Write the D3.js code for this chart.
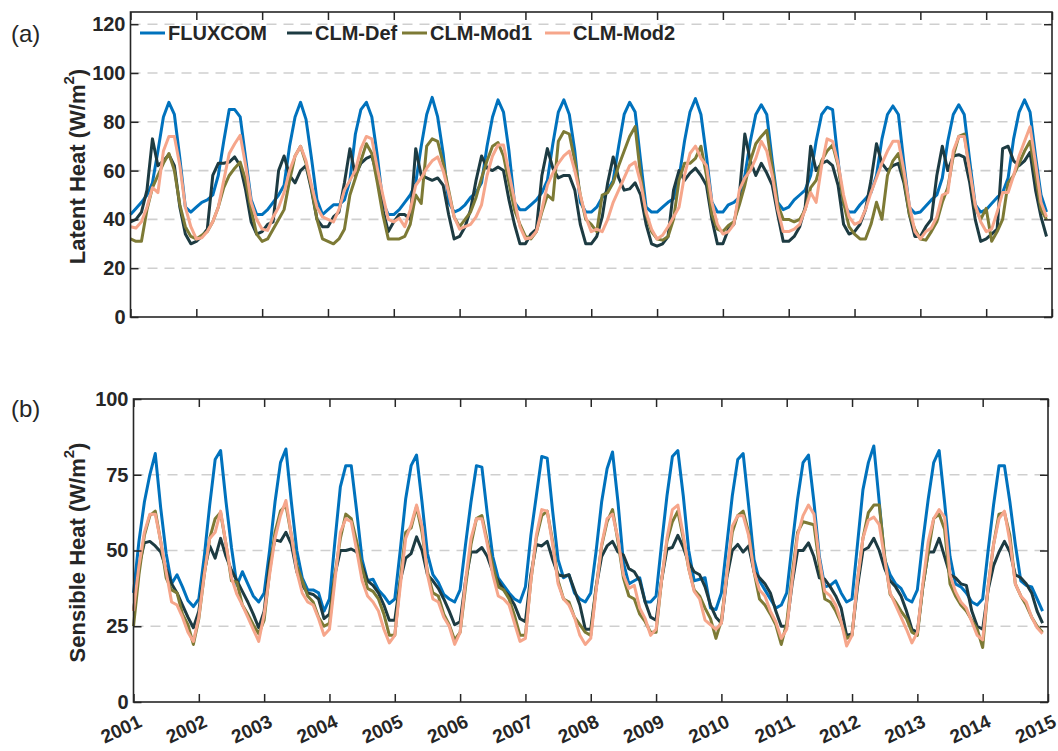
<!DOCTYPE html>
<html>
<head>
<meta charset="utf-8">
<title>Latent and sensible heat, FLUXCOM vs CLM, 2001-2014</title>
<script src="https://d3js.org/d3.v7.min.js"></script>
<style>
  body { margin: 0; background: #fff; }
  svg text { font-family: "Liberation Sans", Arial, Helvetica, sans-serif; fill: #262626; }
</style>
</head>
<body>
<script>
// monthly means Jan 2001 - Dec 2014, one row per year (W/m2)
var leFlux = [
  42, 44.5, 47, 50, 55, 68, 82, 88, 83, 65, 45, 43,
  45, 47, 48, 50, 58, 72, 85, 85, 82, 65, 48, 42,
  42, 44, 47, 50, 54, 70, 82, 88, 81, 65, 48, 42,
  44, 46, 46, 48, 56, 75, 85, 88, 82, 66, 47, 42,
  42, 44, 47, 50, 55, 70, 83, 90, 82, 67, 47, 43,
  44, 46, 49, 51, 55, 70, 82, 89, 84, 68, 47, 44,
  44, 46, 48, 51, 56, 71, 84, 89, 83, 68, 47, 43,
  43, 45, 49, 52, 56, 70, 83, 88, 84, 64, 45, 43,
  43, 45, 47, 48.5, 57, 72, 84, 89.5, 83, 66, 47, 43,
  43, 46, 47, 49, 58, 72, 83, 87, 83, 64, 47, 44,
  45, 48, 50, 52, 58, 72, 83, 86, 85, 64, 46, 43,
  43, 46, 48.5, 51, 58, 73, 83, 86.5, 83, 63, 45, 42.5,
  43, 45.5, 48, 50, 57, 72, 83, 87, 83, 64, 46, 43,
  44, 46.5, 49, 51, 57, 73, 84, 89, 84, 66, 50, 43
];
var leDef = [
  39, 40, 43, 52, 73, 62, 64, 66.5, 62, 45, 34, 30,
  31, 33, 36, 58, 63, 63, 63.5, 65.6, 62, 52, 39, 34,
  35, 38, 39, 60, 66, 58, 55, 60, 62, 52, 40, 37,
  37, 41, 43, 55, 69, 58, 63, 65, 66, 58, 44, 35,
  39, 42, 42, 40, 69, 58, 57, 56, 57, 54, 42, 32,
  33, 37, 44, 56, 66, 61, 60, 61.5, 60, 48, 38, 30,
  30, 34, 36, 58, 69, 61, 57, 58, 58, 52, 38, 30,
  30, 33, 41, 55, 65.6, 57, 52, 52.5, 55, 50, 38, 30,
  29, 30, 33, 52, 60, 56, 59, 61, 58, 54, 40, 30,
  30, 36, 38, 50, 75, 64, 58, 63, 59, 54, 42, 31,
  31, 33, 37, 45, 70, 60, 63, 64, 62, 54, 38, 34,
  35, 38, 44, 56, 71, 63, 60, 62, 63, 55, 42, 33,
  33, 37, 40, 58, 70, 60, 66, 66.5, 65.5, 55, 40, 31,
  32, 34, 36, 69, 70, 64, 62, 64, 67.5, 52, 41, 33
];
var leMod1 = [
  32, 31, 31, 44, 53, 58, 63, 67, 60, 46, 37, 33,
  32, 33.5, 35, 39, 45, 53, 58, 61, 63.5, 56, 44, 34,
  31, 32, 36, 40, 44, 56, 66, 70, 63, 53, 40, 32,
  31, 30, 32, 36, 50, 57, 64, 71, 67, 55, 42, 32,
  32, 32, 33, 38, 50, 46.5, 70, 73, 72, 63, 52, 41,
  37, 40, 43, 49, 57, 64, 70, 71.5, 66, 55, 44, 38,
  33, 32, 35, 43, 50, 48, 72, 76, 75, 64, 50, 40,
  38, 35, 50, 51, 55, 62, 68, 74, 78, 58, 42, 35,
  32, 31.5, 33, 40, 56, 63, 63, 65, 70, 58, 42, 36,
  35, 37.5, 39, 46, 54, 64, 71, 74, 76.5, 61, 46, 40,
  40, 39, 40, 44, 53, 56, 64, 68, 70.5, 62, 47, 37,
  34, 32, 32, 38, 47, 40, 58, 64, 67, 57, 42, 36,
  32, 31.5, 35, 39, 47, 53, 66, 74, 75, 60, 45, 40,
  44.5, 31, 35, 40, 55, 58, 63, 68, 72, 58, 44, 40
];
var leMod2 = [
  37, 36.5, 39, 45, 53, 51, 68, 74, 74, 62, 45, 37,
  32, 32.5, 35, 39, 45, 56, 67, 71, 74.5, 62, 47, 40,
  36, 35.5, 41, 45, 51, 60, 66, 70, 64, 54, 45, 41,
  40, 39, 44, 52, 56, 60, 69, 74, 73, 61, 50, 40,
  39, 40.5, 37, 44, 54, 57, 61, 64, 65.6, 60, 51, 41,
  36, 37, 38, 41, 46, 58, 66, 70.5, 70.5, 59, 48, 37,
  32, 32.5, 35, 44, 54, 59, 63, 66, 68, 60, 50, 41,
  35, 36, 35, 40, 47, 52, 57, 62, 63.5, 55, 43, 36,
  32, 33.5, 37, 41, 45, 58, 67, 70, 65, 62, 47, 38,
  34, 35, 38, 52, 57, 60, 65, 72, 68, 58, 44, 35,
  35, 36, 38, 44, 51, 47, 62, 73, 72, 63, 50, 41,
  38, 39, 44, 51, 57, 63, 68, 72, 72, 60, 46, 35,
  32, 35, 36.5, 41, 50, 51, 68, 74, 74, 60, 46, 39,
  35, 36, 43, 51, 51, 58, 66, 72, 78, 63, 47, 41
];

var shFlux = [
  36, 53, 66, 75, 82, 64, 49, 39, 42, 38, 33.5, 31.5,
  34, 48, 65, 80, 83, 66, 51, 38.5, 43, 39, 35, 33,
  36, 50, 66, 79, 83.5, 66, 50, 41, 37, 37, 36, 30,
  34, 53, 71, 78, 78, 63, 47, 40, 40.5, 37, 35, 32.5,
  34, 50, 67, 78, 81.5, 66, 49, 42, 39.5, 35.5, 34, 33,
  37, 52, 66, 78, 77.5, 62, 48, 41, 38.5, 36, 34, 33,
  38, 55, 68, 81, 80.5, 63, 47, 41, 42, 36, 34, 33,
  36, 50, 66, 77, 82.5, 66, 46, 39, 40, 41, 33, 33,
  35, 52, 68, 81, 83, 68, 50, 40, 40.5, 41, 31, 30.5,
  36, 52, 68, 80, 82, 65, 47, 40, 37, 34, 31, 32,
  36, 52, 67, 79, 81.5, 66, 48, 38, 38.5, 40, 36, 33,
  34, 52, 70, 79, 84.5, 66, 47, 42, 39, 37.5, 34, 33,
  37, 53, 67, 79, 83, 66, 48, 39, 38, 36, 33, 32,
  34, 50, 65, 78, 78, 66, 52, 40, 38.5, 38, 34, 30
];
var shDef = [
  30, 45, 52.5, 53, 51.5, 49.5, 44, 39, 36, 32, 28, 24.5,
  30, 43, 51.5, 47.5, 54, 48, 43.5, 40, 36.5, 33, 29, 24.5,
  30, 46, 53.5, 53, 56, 52, 43, 38.5, 36, 35.5, 34, 27.5,
  29, 42, 50, 50, 50.5, 49.5, 45, 40, 38.5, 36, 32, 27,
  27, 40, 47.5, 49, 54.5, 50, 42, 40, 37.5, 34, 30, 25.5,
  26.5, 40, 49.5, 49.5, 51, 48, 43, 40, 37, 35, 32, 27.5,
  26.5, 42, 52, 51.5, 53, 47, 42, 41.5, 42, 37, 32, 24,
  24, 38, 48, 51.5, 53, 49.5, 48.5, 44, 43, 40, 33, 28,
  27, 40, 50.5, 51, 55, 51, 46, 43, 42, 38, 32, 28,
  26, 41, 50, 52, 49.5, 51.5, 43, 41, 39, 36, 30, 25,
  25, 39, 50, 50, 52.5, 48, 41, 40.5, 38, 35, 31, 22,
  22.5, 38, 50, 51, 54, 50, 44, 40, 38, 35, 30, 24,
  23, 38, 49.5, 49.5, 54, 48, 42, 41, 39, 38.5, 30, 25,
  24, 37, 45, 49.5, 53, 49.5, 42, 41, 39, 36, 30, 26
];
var shMod1 = [
  25, 42, 55, 61.5, 63, 53, 41, 37, 36, 29, 25.5, 19,
  27.5, 42, 54, 60.5, 62.5, 52, 40, 39.5, 32, 29, 25.5, 22.5,
  27, 43, 56, 63, 65, 55, 45, 40, 35, 33, 28, 25,
  26, 42, 54, 62, 60.5, 53, 44, 37.5, 36.5, 34, 29, 22,
  22, 40, 56, 57.5, 64.5, 56, 43, 36, 35, 29, 25.5, 20.5,
  23, 38, 52, 60.5, 61.5, 53, 45, 38, 37, 34, 28.5, 22,
  22, 40, 54, 61.5, 63, 53, 40, 34, 33, 28, 25.5, 23,
  22, 38, 51.5, 59.5, 63.5, 53, 41, 35, 34, 29, 26.5, 23,
  23, 40, 53, 59.5, 63, 54, 44, 37, 35, 31, 27.5, 21,
  27, 42, 56, 61.5, 63, 56, 43, 34, 32, 29, 25.5, 19,
  26, 42, 56, 59.5, 59, 58.5, 45, 34, 33, 30, 26, 21,
  22, 40, 54, 62.5, 65, 65, 48, 35.5, 33, 30, 27.5, 23,
  22, 38, 49.5, 60.5, 62, 57, 39, 35, 32, 30, 27, 24,
  18, 38, 52, 62, 62.5, 55, 39, 35, 32, 28, 25, 23
];
var shMod2 = [
  30, 45, 56, 62, 62, 53, 43, 33, 32, 28, 23, 20,
  28, 42, 54, 56, 63, 52, 41, 35.5, 32, 28, 24, 20,
  29, 42, 54, 61.5, 66.5, 55, 43, 36, 33, 32, 27.5, 22,
  24, 40, 56, 60.5, 59.5, 50, 40, 35, 33, 30, 24, 19.5,
  22, 38, 54, 58.5, 65, 58, 42, 34, 33, 28, 25, 19,
  23, 40, 54, 60.5, 60.5, 52, 42, 35, 34, 32, 26, 20,
  21, 40, 55, 63.5, 63, 52, 39, 34, 32, 28, 22, 19,
  21, 37, 52, 60.5, 62, 54, 42, 37.5, 38.5, 31, 27.5, 22,
  24, 40, 54, 63.5, 65, 55, 44, 36.5, 34, 27, 25.5, 24,
  26, 42, 58, 61.5, 61.5, 55, 43, 37, 35, 30, 26.5, 21,
  24, 40, 55, 61.5, 65, 62, 47, 36.5, 35, 32, 26.5, 18.5,
  22, 40, 54, 60, 61, 58.5, 47, 36, 32, 28, 24, 19.5,
  23, 39, 53, 60.5, 63.5, 61, 42, 36.5, 33, 31, 26.5, 22,
  20.5, 38, 52, 60.5, 63, 53, 39, 35, 33, 28, 24.5, 22.5
];

var seriesNames = ["FLUXCOM", "CLM-Def", "CLM-Mod1", "CLM-Mod2"];
var seriesColors = ["#0072bd", "#1d3b42", "#7d7a35", "#f6a68b"];
var yearTicks = [2001, 2002, 2003, 2004, 2005, 2006, 2007, 2008, 2009, 2010, 2011, 2012, 2013, 2014, 2015];
var latentTicks = [0, 20, 40, 60, 80, 100, 120];
var sensibleTicks = [0, 25, 50, 75, 100];

var axisColor = "#262626";

var svg = d3.select("body").append("svg")
  .attr("width", 1058)
  .attr("height", 751);

// one boxed MATLAB-style panel
function drawPanel(p) {
  var x = d3.scaleLinear().domain([2001, 2015]).range([p.left, p.right]);
  var y = d3.scaleLinear().domain([0, p.yMax]).range([p.bottom, p.top]);
  var g = svg.append("g");

  // dashed horizontal grid
  g.selectAll("line.grid")
    .data(p.yTicks.filter(function (v) { return v > 0 && v < p.yMax; }))
    .enter().append("line")
      .attr("class", "grid")
      .attr("x1", p.left).attr("x2", p.right)
      .attr("y1", function (v) { return y(v); })
      .attr("y2", function (v) { return y(v); })
      .attr("stroke", "#cfcfcf")
      .attr("stroke-width", 1.6)
      .attr("stroke-dasharray", "10,7");

  // series
  var line = d3.line()
    .x(function (v, i) { return x(2001 + i / 12); })
    .y(function (v) { return y(v); });

  p.series.forEach(function (s, k) {
    g.append("path")
      .datum(s)
      .attr("fill", "none")
      .attr("stroke", seriesColors[k])
      .attr("stroke-width", 3)
      .attr("stroke-linejoin", "round")
      .attr("d", line);
  });

  // axes, ticks pointing inwards
  var yl = g.append("g").attr("transform", "translate(" + p.left + ",0)")
    .call(d3.axisLeft(y).tickValues(p.yTicks).tickSize(-8).tickSizeOuter(0).tickPadding(5));
  yl.selectAll("text")
    .attr("font-size", "20px").attr("font-weight", "bold").attr("fill", axisColor);

  g.append("g").attr("transform", "translate(" + p.right + ",0)")
    .call(d3.axisRight(y).tickValues(p.yTicks).tickSize(-8).tickSizeOuter(0).tickFormat(""));
  g.append("g").attr("transform", "translate(0," + p.top + ")")
    .call(d3.axisTop(x).tickValues(yearTicks).tickSize(-8).tickSizeOuter(0).tickFormat(""));

  var xb = g.append("g").attr("transform", "translate(0," + p.bottom + ")")
    .call(d3.axisBottom(x).tickValues(yearTicks).tickSize(-8).tickSizeOuter(0)
      .tickFormat(p.xLabels ? d3.format("d") : ""));
  xb.selectAll("text")
    .attr("x", 0).attr("y", 0).attr("dy", 0)
    .attr("text-anchor", "end")
    .attr("transform", "translate(9,24) rotate(-25)")
    .attr("font-size", "19px").attr("font-weight", "bold").attr("fill", axisColor);

  g.selectAll(".domain").remove();
  g.selectAll(".tick line").attr("stroke", axisColor).attr("stroke-width", 1.5);

  g.append("rect")
    .attr("x", p.left).attr("y", p.top)
    .attr("width", p.right - p.left).attr("height", p.bottom - p.top)
    .attr("fill", "none")
    .attr("stroke", axisColor)
    .attr("stroke-width", 1.6);

  // y label with superscript
  var t = g.append("text")
    .attr("transform", "translate(77," + ((p.top + p.bottom) / 2 + 2) + ") rotate(-90)")
    .attr("text-anchor", "middle")
    .attr("dominant-baseline", "central")
    .attr("font-size", "22px")
    .attr("font-weight", "bold");
  t.append("tspan").text(p.label + " (W/m");
  t.append("tspan").attr("baseline-shift", "super").attr("font-size", "15px").text("2");
  t.append("tspan").text(")");

  g.append("text")
    .attr("x", 11).attr("y", p.tagY)
    .attr("font-size", "24px")
    .text(p.tag);
}

drawPanel({
  left: 130.5, right: 1052, top: 12, bottom: 317, yMax: 125,
  yTicks: latentTicks, series: [leFlux, leDef, leMod1, leMod2],
  label: "Latent Heat", tag: "(a)", tagY: 42, xLabels: false
});

drawPanel({
  left: 133.5, right: 1048, top: 399, bottom: 702, yMax: 100,
  yTicks: sensibleTicks, series: [shFlux, shDef, shMod1, shMod2],
  label: "Sensible Heat", tag: "(b)", tagY: 417, xLabels: true
});

// legend across the top of panel (a)
var legendX = [140, 287, 402, 545];
var legend = svg.append("g");
seriesNames.forEach(function (name, k) {
  legend.append("line")
    .attr("x1", legendX[k]).attr("x2", legendX[k] + 25)
    .attr("y1", 33).attr("y2", 33)
    .attr("stroke", seriesColors[k])
    .attr("stroke-width", 3);
  legend.append("text")
    .attr("x", legendX[k] + 28).attr("y", 33)
    .attr("dominant-baseline", "central")
    .attr("font-size", "20px")
    .attr("font-weight", "bold")
    .text(name);
});
</script>
</body>
</html>
